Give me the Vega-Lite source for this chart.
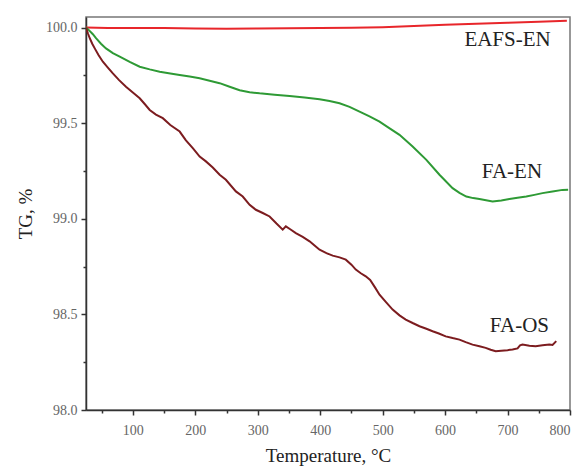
{
  "$schema": "https://vega.github.io/schema/vega-lite/v6.json",
  "width": 484,
  "height": 393,
  "autosize": {"type": "none"},
  "padding": {"left": 86, "top": 17, "right": 6, "bottom": 59},
  "background": "white",
  "config": {
    "view": {"stroke": "#777", "strokeWidth": 1.5},
    "font": "Liberation Serif"
  },
  "datasets": {
    "curves": [
      {"s":"EAFS-EN","T":25,"TG":100.0},{"s":"EAFS-EN","T":60,"TG":99.998},{"s":"EAFS-EN","T":100,"TG":99.997},{"s":"EAFS-EN","T":150,"TG":99.997},{"s":"EAFS-EN","T":200,"TG":99.995},{"s":"EAFS-EN","T":250,"TG":99.994},{"s":"EAFS-EN","T":300,"TG":99.995},{"s":"EAFS-EN","T":350,"TG":99.996},{"s":"EAFS-EN","T":400,"TG":99.997},{"s":"EAFS-EN","T":450,"TG":99.999},{"s":"EAFS-EN","T":500,"TG":100.002},{"s":"EAFS-EN","T":550,"TG":100.008},{"s":"EAFS-EN","T":600,"TG":100.014},{"s":"EAFS-EN","T":650,"TG":100.02},{"s":"EAFS-EN","T":700,"TG":100.025},{"s":"EAFS-EN","T":750,"TG":100.03},{"s":"EAFS-EN","T":795,"TG":100.035},
      {"s":"FA-EN","T":25,"TG":100.0},{"s":"FA-EN","T":30,"TG":99.985},{"s":"FA-EN","T":36,"TG":99.965},{"s":"FA-EN","T":41,"TG":99.944},{"s":"FA-EN","T":49,"TG":99.915},{"s":"FA-EN","T":57,"TG":99.891},{"s":"FA-EN","T":68,"TG":99.866},{"s":"FA-EN","T":79,"TG":99.848},{"s":"FA-EN","T":95,"TG":99.82},{"s":"FA-EN","T":111,"TG":99.795},{"s":"FA-EN","T":127,"TG":99.781},{"s":"FA-EN","T":143,"TG":99.769},{"s":"FA-EN","T":160,"TG":99.76},{"s":"FA-EN","T":175,"TG":99.752},{"s":"FA-EN","T":191,"TG":99.744},{"s":"FA-EN","T":207,"TG":99.735},{"s":"FA-EN","T":223,"TG":99.722},{"s":"FA-EN","T":239,"TG":99.709},{"s":"FA-EN","T":255,"TG":99.69},{"s":"FA-EN","T":271,"TG":99.672},{"s":"FA-EN","T":287,"TG":99.662},{"s":"FA-EN","T":303,"TG":99.656},{"s":"FA-EN","T":327,"TG":99.649},{"s":"FA-EN","T":351,"TG":99.642},{"s":"FA-EN","T":375,"TG":99.634},{"s":"FA-EN","T":399,"TG":99.625},{"s":"FA-EN","T":415,"TG":99.616},{"s":"FA-EN","T":431,"TG":99.604},{"s":"FA-EN","T":447,"TG":99.585},{"s":"FA-EN","T":463,"TG":99.56},{"s":"FA-EN","T":479,"TG":99.535},{"s":"FA-EN","T":495,"TG":99.508},{"s":"FA-EN","T":510,"TG":99.475},{"s":"FA-EN","T":527,"TG":99.439},{"s":"FA-EN","T":548,"TG":99.378},{"s":"FA-EN","T":570,"TG":99.308},{"s":"FA-EN","T":591,"TG":99.23},{"s":"FA-EN","T":612,"TG":99.16},{"s":"FA-EN","T":623,"TG":99.135},{"s":"FA-EN","T":634,"TG":99.116},{"s":"FA-EN","T":645,"TG":99.108},{"s":"FA-EN","T":655,"TG":99.103},{"s":"FA-EN","T":676,"TG":99.09},{"s":"FA-EN","T":690,"TG":99.096},{"s":"FA-EN","T":703,"TG":99.103},{"s":"FA-EN","T":716,"TG":99.11},{"s":"FA-EN","T":730,"TG":99.116},{"s":"FA-EN","T":743,"TG":99.125},{"s":"FA-EN","T":756,"TG":99.134},{"s":"FA-EN","T":772,"TG":99.142},{"s":"FA-EN","T":788,"TG":99.151},{"s":"FA-EN","T":797,"TG":99.152},
      {"s":"FA-OS","T":25,"TG":100.0},{"s":"FA-OS","T":28,"TG":99.97},{"s":"FA-OS","T":31,"TG":99.944},{"s":"FA-OS","T":35,"TG":99.915},{"s":"FA-OS","T":39,"TG":99.891},{"s":"FA-OS","T":45,"TG":99.856},{"s":"FA-OS","T":52,"TG":99.821},{"s":"FA-OS","T":60,"TG":99.79},{"s":"FA-OS","T":68,"TG":99.76},{"s":"FA-OS","T":78,"TG":99.725},{"s":"FA-OS","T":89,"TG":99.69},{"s":"FA-OS","T":100,"TG":99.66},{"s":"FA-OS","T":111,"TG":99.63},{"s":"FA-OS","T":119,"TG":99.6},{"s":"FA-OS","T":127,"TG":99.569},{"s":"FA-OS","T":137,"TG":99.545},{"s":"FA-OS","T":148,"TG":99.526},{"s":"FA-OS","T":160,"TG":99.49},{"s":"FA-OS","T":175,"TG":99.456},{"s":"FA-OS","T":185,"TG":99.41},{"s":"FA-OS","T":196,"TG":99.369},{"s":"FA-OS","T":207,"TG":99.325},{"s":"FA-OS","T":217,"TG":99.3},{"s":"FA-OS","T":228,"TG":99.268},{"s":"FA-OS","T":239,"TG":99.23},{"s":"FA-OS","T":249,"TG":99.204},{"s":"FA-OS","T":265,"TG":99.143},{"s":"FA-OS","T":276,"TG":99.116},{"s":"FA-OS","T":287,"TG":99.073},{"s":"FA-OS","T":297,"TG":99.047},{"s":"FA-OS","T":308,"TG":99.03},{"s":"FA-OS","T":319,"TG":99.012},{"s":"FA-OS","T":330,"TG":98.975},{"s":"FA-OS","T":340,"TG":98.943},{"s":"FA-OS","T":345,"TG":98.96},{"s":"FA-OS","T":352,"TG":98.945},{"s":"FA-OS","T":361,"TG":98.925},{"s":"FA-OS","T":372,"TG":98.905},{"s":"FA-OS","T":383,"TG":98.882},{"s":"FA-OS","T":391,"TG":98.86},{"s":"FA-OS","T":399,"TG":98.838},{"s":"FA-OS","T":410,"TG":98.82},{"s":"FA-OS","T":420,"TG":98.807},{"s":"FA-OS","T":431,"TG":98.798},{"s":"FA-OS","T":441,"TG":98.786},{"s":"FA-OS","T":450,"TG":98.76},{"s":"FA-OS","T":457,"TG":98.734},{"s":"FA-OS","T":465,"TG":98.715},{"s":"FA-OS","T":473,"TG":98.699},{"s":"FA-OS","T":480,"TG":98.68},{"s":"FA-OS","T":488,"TG":98.64},{"s":"FA-OS","T":495,"TG":98.603},{"s":"FA-OS","T":505,"TG":98.565},{"s":"FA-OS","T":516,"TG":98.525},{"s":"FA-OS","T":527,"TG":98.495},{"s":"FA-OS","T":537,"TG":98.473},{"s":"FA-OS","T":548,"TG":98.455},{"s":"FA-OS","T":559,"TG":98.438},{"s":"FA-OS","T":570,"TG":98.425},{"s":"FA-OS","T":580,"TG":98.412},{"s":"FA-OS","T":590,"TG":98.4},{"s":"FA-OS","T":601,"TG":98.385},{"s":"FA-OS","T":612,"TG":98.376},{"s":"FA-OS","T":623,"TG":98.368},{"s":"FA-OS","T":633,"TG":98.355},{"s":"FA-OS","T":644,"TG":98.342},{"s":"FA-OS","T":655,"TG":98.333},{"s":"FA-OS","T":665,"TG":98.325},{"s":"FA-OS","T":673,"TG":98.315},{"s":"FA-OS","T":681,"TG":98.307},{"s":"FA-OS","T":690,"TG":98.31},{"s":"FA-OS","T":700,"TG":98.313},{"s":"FA-OS","T":708,"TG":98.316},{"s":"FA-OS","T":716,"TG":98.322},{"s":"FA-OS","T":720,"TG":98.338},{"s":"FA-OS","T":724,"TG":98.342},{"s":"FA-OS","T":735,"TG":98.336},{"s":"FA-OS","T":745,"TG":98.333},{"s":"FA-OS","T":756,"TG":98.338},{"s":"FA-OS","T":767,"TG":98.342},{"s":"FA-OS","T":772,"TG":98.34},{"s":"FA-OS","T":778,"TG":98.36}
    ],
    "labels": [
      {"s":"EAFS-EN","T":700,"TG":99.935},
      {"s":"FA-EN","T":707,"TG":99.243},
      {"s":"FA-OS","T":719,"TG":98.439}
    ]
  },
  "resolve": {"axis": {"x": "independent"}},
  "layer": [
    {
      "data": {"name": "curves"},
      "mark": {"type": "line", "strokeWidth": 2, "clip": true},
      "encoding": {
        "x": {
          "field": "T", "type": "quantitative",
          "scale": {"domain": [25, 800], "nice": false, "zero": false},
          "axis": {
            "orient": "bottom",
            "title": "Temperature, °C",
            "values": [100,200,300,400,500,600,700,800],
            "labelOverlap": false,
            "grid": false,
            "domainColor": "#333", "domainWidth": 1.5,
            "tickColor": "#333", "tickWidth": 1.5, "tickSize": 5,
            "labelFont": "Liberation Serif", "labelFontSize": 14, "labelColor": "#666", "labelPadding": 8,
            "titleFont": "Liberation Serif", "titleFontSize": 19, "titleFontWeight": "normal", "titleColor": "#222", "titlePadding": 9
          }
        },
        "y": {
          "field": "TG", "type": "quantitative",
          "scale": {"domain": [98, 100.055], "nice": false, "zero": false},
          "axis": {
            "title": "TG, %",
            "values": [98,98.25,98.5,98.75,99,99.25,99.5,99.75,100],
            "format": ".1f",
            "labelExpr": "abs(datum.value*2 - round(datum.value*2)) < 0.01 ? datum.label : ''",
            "labelOverlap": false,
            "grid": false,
            "domainColor": "#333", "domainWidth": 1.5,
            "tickColor": "#333", "tickWidth": 1.5,
            "tickSize": {"condition": {"test": "abs(datum.value*2 - round(datum.value*2)) < 0.01", "value": 5}, "value": 3},
            "labelFont": "Liberation Serif", "labelFontSize": 14, "labelColor": "#666", "labelPadding": 4,
            "titleFont": "Liberation Serif", "titleFontSize": 19, "titleFontWeight": "normal", "titleColor": "#222", "titlePadding": 10
          }
        },
        "color": {
          "field": "s", "type": "nominal",
          "scale": {"domain": ["EAFS-EN", "FA-EN", "FA-OS"], "range": ["#e8262b", "#2e9a35", "#7c1c1f"]},
          "legend": null
        }
      }
    },
    {
      "data": {"name": "labels"},
      "mark": {"type": "text", "font": "Liberation Serif", "fontSize": 21, "color": "#222", "align": "center", "baseline": "middle"},
      "encoding": {
        "x": {
          "field": "T", "type": "quantitative",
          "axis": {
            "orient": "bottom",
            "title": null,
            "values": [50,150,250,350,450,550,650,750],
            "labels": false,
            "domain": false,
            "grid": false,
            "tickColor": "#333", "tickWidth": 1.5, "tickSize": 3
          }
        },
        "y": {"field": "TG", "type": "quantitative"},
        "text": {"field": "s"}
      }
    }
  ]
}
